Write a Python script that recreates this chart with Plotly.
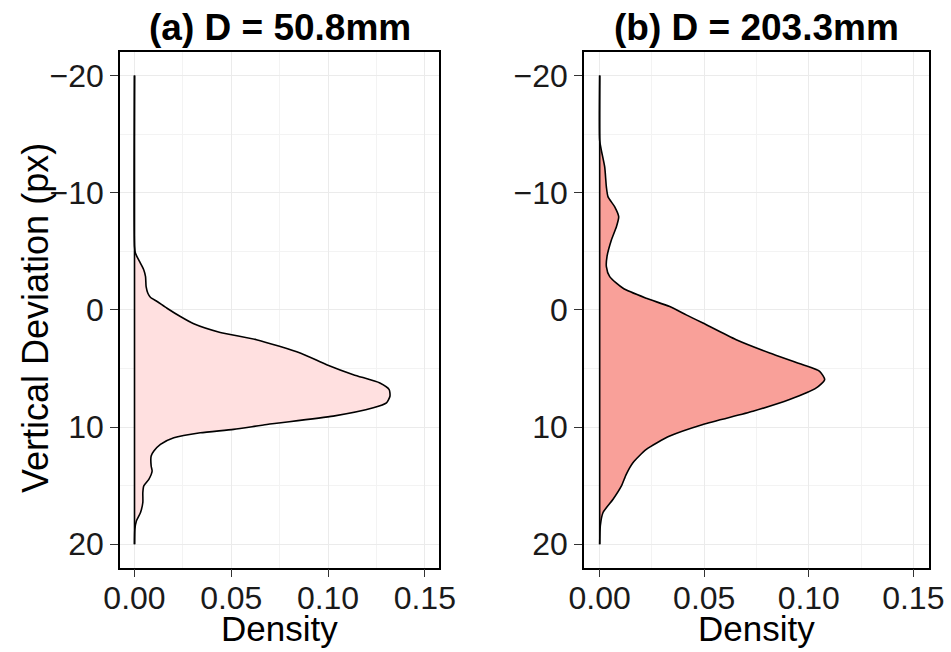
import plotly.graph_objects as go

# ---- data ----
panel_titles = ["(a) D = 50.8mm", "(b) D = 203.3mm"]

dev_a = [-20, -5.4, -4.82, -3.97, -3.40, -2.83, -1.98, -1.42, -1.08, -0.71, -0.14, 0.57,
         1.19, 1.93, 2.55, 3.68, 4.68, 5.53, 6.24, 6.80, 7.37, 7.94, 8.36, 9.07, 9.78,
         10.2, 10.49, 10.92, 11.48, 12.05, 12.47, 13.32, 13.75, 14.46, 15.02, 15.59,
         16.44, 17.29, 18.0, 18.7, 20]
dens_a = [0, 0, 0.0005, 0.0031, 0.0048, 0.0057, 0.0060, 0.0069, 0.0082, 0.0117, 0.0168, 0.0237,
          0.0306, 0.0443, 0.0630, 0.0856, 0.0993, 0.1131, 0.1268, 0.1316, 0.1320, 0.1302,
          0.1234, 0.1027, 0.0684, 0.0512, 0.0340, 0.0203, 0.0134, 0.0100, 0.0086, 0.0086,
          0.0091, 0.0074, 0.0048, 0.0043, 0.0043, 0.0031, 0.0010, 0.0002, 0]

dev_b = [-20, -14.46, -13.61, -12.19, -10.49, -9.64, -8.79, -7.94, -7.09, -5.95, -4.54,
         -3.69, -2.83, -1.84, -0.99, -0.28, 0.43, 1.13, 2.55, 3.68, 4.68, 5.25, 5.95,
         6.66, 7.65, 8.65, 9.78, 10.77, 11.91, 13.04, 14.03, 15.02, 16.16, 17.29, 18.43, 20]
dens_b = [0, 0, 0.0008, 0.0024, 0.0032, 0.0040, 0.0072, 0.0091, 0.0080, 0.0056, 0.0035,
          0.0032, 0.0048, 0.0112, 0.0223, 0.0335, 0.0414, 0.0494, 0.0653, 0.0813, 0.0972,
          0.1052, 0.1076, 0.1036, 0.0908, 0.0733, 0.0494, 0.0335, 0.0223, 0.0159, 0.0127,
          0.0104, 0.0064, 0.0016, 0.0003, 0]

x_ticks = [0.0, 0.05, 0.10, 0.15]
y_ticks = [-20, -10, 0, 10, 20]

fills = ["#FFE0E0", "#F9A099"]
FONT = "Liberation Sans, Arial, Helvetica, sans-serif"
W, H = 951, 652

fig = go.Figure()
panels = [(dev_a, dens_a), (dev_b, dens_b)]
for i, (dev, dens) in enumerate(panels):
    xa = "x" if i == 0 else "x2"
    ya = "y" if i == 0 else "y2"
    fig.add_trace(go.Scatter(x=dens, y=dev, mode="lines", fill="tozerox",
                             fillcolor=fills[i],
                             line=dict(color="black", width=1.6, shape="spline", smoothing=0.6),
                             xaxis=xa, yaxis=ya, showlegend=False, hoverinfo="skip"))
    fig.add_trace(go.Scatter(x=[0, 0], y=[dev[0], dev[-1]], mode="lines",
                             line=dict(color="black", width=1.6),
                             xaxis=xa, yaxis=ya, showlegend=False, hoverinfo="skip"))

dom_x = [[120 / W, 439.3 / W], [584 / W, 929 / W]]
dom_y = [1 - 567.7 / H, 1 - 52 / H]

axis_common = dict(showline=True, linecolor="black", linewidth=1.5, mirror=True,
                   ticks="outside", ticklen=8, tickcolor="#333333", tickwidth=1.3,
                   gridcolor="#EBEBEB", gridwidth=1.1, zeroline=False, automargin=False,
                   tickfont=dict(family=FONT, size=32, color="#1a1a1a"))

for i in range(2):
    sx = "" if i == 0 else "2"
    fig.update_layout(**{
        f"xaxis{sx}": dict(axis_common, domain=dom_x[i], range=[-0.0075, 0.1575],
                           tickvals=x_ticks, tickformat=".2f", ticklabelstandoff=-7,
                           minor=dict(dtick=0.025, tick0=0, showgrid=True,
                                      gridcolor="#F3F3F3", gridwidth=0.6),
                           anchor="y" + ("" if i == 0 else "2")),
        f"yaxis{sx}": dict(axis_common, domain=dom_y, range=[22, -22],
                           tickvals=y_ticks,
                           minor=dict(dtick=5, tick0=0, showgrid=True,
                                      gridcolor="#F3F3F3", gridwidth=0.6),
                           anchor="x" + ("" if i == 0 else "2")),
    })

annotations = []
for i in range(2):
    cx = (dom_x[i][0] + dom_x[i][1]) / 2
    annotations.append(dict(text="<b>%s</b>" % panel_titles[i], x=cx, y=1 - 28 / H,
                            xref="paper", yref="paper", xanchor="center", yanchor="middle",
                            showarrow=False, font=dict(family=FONT, size=37, color="black")))
    annotations.append(dict(text="Density", x=cx, y=1 - 628 / H,
                            xref="paper", yref="paper", xanchor="center", yanchor="middle",
                            showarrow=False, font=dict(family=FONT, size=35, color="black")))
annotations.append(dict(text="Vertical Deviation (px)", x=35 / W, y=1 - 318 / H,
                        xref="paper", yref="paper", xanchor="center", yanchor="middle",
                        textangle=-90, showarrow=False,
                        font=dict(family=FONT, size=36, color="black")))

fig.update_layout(width=W, height=H, margin=dict(l=0, r=0, t=0, b=0),
                  paper_bgcolor="white", plot_bgcolor="white",
                  annotations=annotations, font=dict(family=FONT))

fig.write_html("out.html", config={"displayModeBar": False},
               post_script="document.body.style.margin='0';document.body.style.overflow='hidden';")
